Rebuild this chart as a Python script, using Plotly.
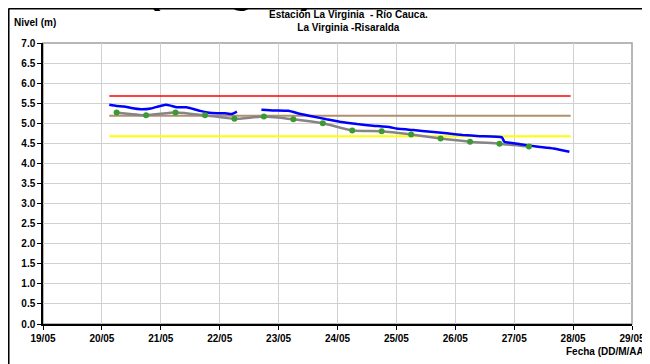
import pandas as pd
import plotly.graph_objects as go

# Nivel horario (tramo 1 y tramo 2, hay un hueco en el registro)
t_nivel_1 = ["2011-05-20 03:00", "2011-05-20 06:00", "2011-05-20 09:00", "2011-05-20 12:00",
             "2011-05-20 16:00", "2011-05-20 20:00", "2011-05-20 23:00", "2011-05-21 02:00",
             "2011-05-21 04:00", "2011-05-21 06:30", "2011-05-21 10:30", "2011-05-21 13:00",
             "2011-05-21 16:00", "2011-05-21 19:00", "2011-05-21 23:00", "2011-05-22 02:00",
             "2011-05-22 05:00", "2011-05-22 07:00"]
nivel_1 = [5.46, 5.43, 5.42, 5.38, 5.35, 5.37, 5.42, 5.46, 5.44, 5.40, 5.40, 5.36,
           5.31, 5.27, 5.25, 5.25, 5.23, 5.29]

t_nivel_2 = ["2011-05-22 17:00", "2011-05-22 22:00", "2011-05-23 04:00", "2011-05-23 09:00",
             "2011-05-23 14:00", "2011-05-23 19:30", "2011-05-24 01:00", "2011-05-24 08:00",
             "2011-05-24 14:30", "2011-05-24 21:30", "2011-05-25 00:00", "2011-05-25 07:00",
             "2011-05-25 14:00", "2011-05-25 20:30", "2011-05-26 03:00", "2011-05-26 10:00",
             "2011-05-26 19:00", "2011-05-26 20:00", "2011-05-27 02:30", "2011-05-27 09:00",
             "2011-05-27 16:00", "2011-05-27 22:30"]
nivel_2 = [5.34, 5.32, 5.31, 5.23, 5.17, 5.10, 5.04, 4.98, 4.94, 4.90, 4.87, 4.83,
           4.79, 4.75, 4.71, 4.68, 4.65, 4.54, 4.48, 4.42, 4.37, 4.29]

# Lecturas de mira (06:00 y 18:00)
t_mira = ["2011-05-20 06:00", "2011-05-20 18:00", "2011-05-21 06:00", "2011-05-21 18:00",
          "2011-05-22 06:00", "2011-05-22 18:00", "2011-05-23 06:00", "2011-05-23 18:00",
          "2011-05-24 06:00", "2011-05-24 18:00", "2011-05-25 06:00", "2011-05-25 18:00",
          "2011-05-26 06:00", "2011-05-26 18:00", "2011-05-27 06:00"]
mira = [5.27, 5.20, 5.27, 5.20, 5.11, 5.17, 5.10, 5.00, 4.82, 4.80, 4.72, 4.62,
        4.54, 4.49, 4.42]

# Umbrales
t_umbral = ["2011-05-20 03:00", "2011-05-27 23:00"]
umbral_rojo = 5.68
umbral_cafe = 5.19
umbral_amarillo = 4.68

fig = go.Figure()

for val, col, w in [(umbral_rojo, "#FF0000", 1.5), (umbral_cafe, "#B0906E", 2),
                    (umbral_amarillo, "#FFFF00", 2)]:
    fig.add_trace(go.Scatter(x=t_umbral, y=[val, val], mode="lines",
                             line=dict(color=col, width=w), showlegend=False))

fig.add_trace(go.Scatter(x=pd.to_datetime(t_mira), y=mira, mode="lines",
                         line=dict(color="#858585", width=2.5, shape="spline", smoothing=0.5),
                         showlegend=False))
for tt, vv in [(t_nivel_1, nivel_1), (t_nivel_2, nivel_2)]:
    fig.add_trace(go.Scatter(x=pd.to_datetime(tt), y=vv, mode="lines",
                             line=dict(color="#0000FF", width=2.5, shape="spline", smoothing=0.4),
                             showlegend=False))
fig.add_trace(go.Scatter(x=pd.to_datetime(t_mira), y=mira, mode="markers",
                         marker=dict(color="#3C9A32", size=6), showlegend=False))

font = dict(family="Liberation Sans, Arial", size=10, color="black", weight="bold")

# la página añade 8 px de margen al cuerpo; márgenes ajustados para compensar
fig.update_layout(
    width=650, height=364,
    margin=dict(l=35, r=26, t=35, b=48),
    paper_bgcolor="white", plot_bgcolor="white",
    font=font,
    xaxis=dict(type="date", range=["2011-05-19", "2011-05-29"], tick0="2011-05-19",
               dtick=86400000, tickformat="%d/%m", showgrid=True, tickfont=font,
               gridcolor="#D0D0D0", gridwidth=1, showline=True, linecolor="black",
               linewidth=1.5, ticks="outside", ticklen=4, tickcolor="black",
               zeroline=False),
    yaxis=dict(range=[0, 7], dtick=0.5, tickformat=".1f", showgrid=True, tickfont=font,
               gridcolor="#D0D0D0", gridwidth=1, showline=True, linecolor="black",
               linewidth=1.5, ticks="outside", ticklen=4, tickcolor="black",
               zeroline=False),
)

# borde gris del área de trazado y marco negro de la imagen
fig.add_shape(type="rect", xref="paper", yref="paper", x0=0, y0=0, x1=1, y1=1,
              line=dict(color="#A0A0A0", width=1.5), layer="below")
fig.add_shape(type="line", xref="paper", yref="paper", x0=-0.0585, y0=-0.3, x1=-0.0585, y1=1.123,
              line=dict(color="black", width=2))
fig.add_shape(type="line", xref="paper", yref="paper", x0=-0.0585, y0=1.123, x1=1.2, y1=1.123,
              line=dict(color="black", width=2))

fig.add_annotation(text="Estación La Virginia  - Río Cauca.<br>La Virginia -Risaralda",
                   xref="paper", yref="paper", x=0.518, y=1.078, xanchor="center", yanchor="middle",
                   showarrow=False, font=font)
fig.add_annotation(text="Nivel (m)", xref="paper", yref="paper", x=-0.053, y=1.0747,
                   xanchor="left", yanchor="middle", showarrow=False, font=font)
fig.add_annotation(text="Fecha (DD/M/AA)", xref="paper", yref="paper", x=1.029, y=-0.0996,
                   xanchor="right", yanchor="middle", showarrow=False, font=font)
fig.add_annotation(text="(Imagen)", xref="paper", yref="paper", x=0.3175, y=1.108,
                   xanchor="center", yanchor="bottom", showarrow=False,
                   font=dict(family="Liberation Sans, Arial", size=40, color="black"))

fig.write_html("out.html")
